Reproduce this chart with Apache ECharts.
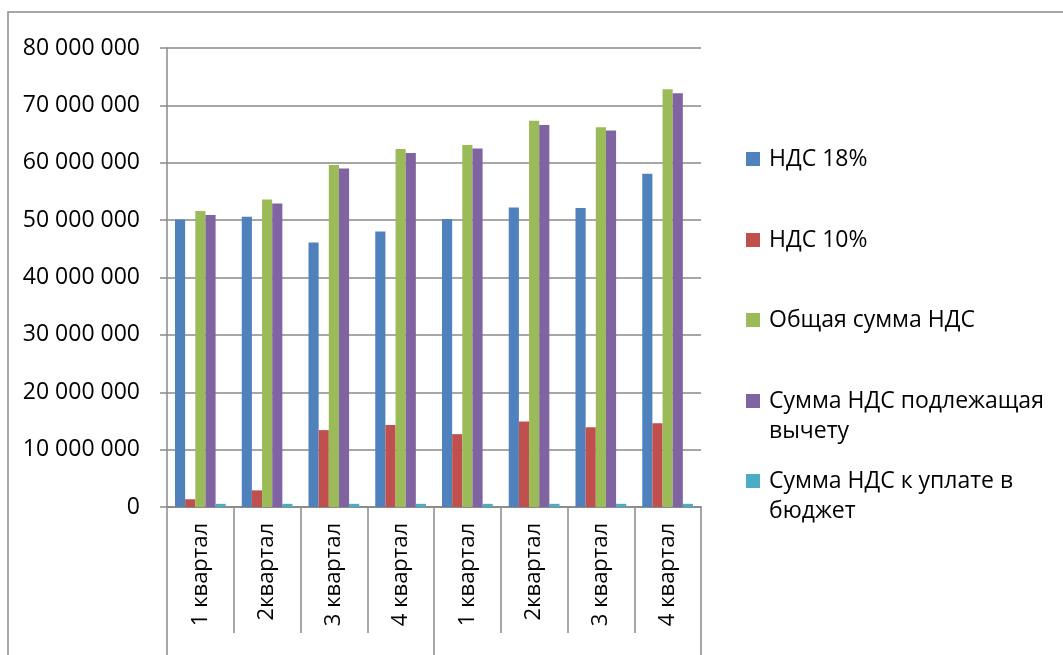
<!DOCTYPE html>
<html>
<head>
<meta charset="utf-8">
<script src="https://cdn.jsdelivr.net/npm/echarts@6/dist/echarts.min.js"></script>
<style>
html,body{margin:0;padding:0;background:#fff;}
#chart{width:1063px;height:655px;}
</style>
</head>
<body>
<div id="chart"></div>
<script>
const categories = ['1 квартал', '2квартал', '3 квартал', '4 квартал', '1 квартал', '2квартал', '3 квартал', '4 квартал'];
const groups = ['', ''];
const seriesNames = ['НДС 18%', 'НДС 10%', 'Общая сумма НДС', 'Сумма НДС подлежащая\nвычету', 'Сумма НДС к уплате в\nбюджет'];
const vat18 = [50100000, 50600000, 46100000, 48000000, 50200000, 52200000, 52100000, 58100000];
const vat10 = [1350000, 2900000, 13400000, 14300000, 12700000, 14900000, 13900000, 14600000];
const vatTotal = [51600000, 53600000, 59600000, 62400000, 63100000, 67300000, 66200000, 72800000];
const vatDeduct = [50900000, 52900000, 59000000, 61700000, 62500000, 66600000, 65600000, 72100000];
const vatPay = [550000, 550000, 550000, 550000, 550000, 550000, 550000, 550000];
const yTicks = { min: 0, max: 80000000, interval: 10000000 };

const colors = ['#4F81BD', '#C0504D', '#9BBB59', '#8064A2', '#4BACC6'];
const allData = [vat18, vat10, vatTotal, vatDeduct, vatPay];
const FONT = 'Open Sans';
const GRAY = '#8a8a8a';
const LH = 30;

const chart = echarts.init(document.getElementById('chart'), null, { renderer: 'canvas' });

// icon centres (y) of each legend entry
const legendCenters = [159, 240, 320, 401, 481];
const legends = seriesNames.map((n, i) => {
  const multi = n.indexOf('\n') >= 0;
  const h = multi ? LH + 14 : 14;
  return {
    orient: 'vertical',
    left: 746,
    top: legendCenters[i] - 7 - (LH / 2 - 7),
    padding: 0,
    itemWidth: 14,
    itemHeight: h,
    icon: multi ? 'path://M0,0L14,0L14,14L0,14Z M0,' + h + 'L0.01,' + h + 'L0,' + h + 'Z' : 'rect',
    itemStyle: { borderWidth: 0 },
    selectedMode: false,
    data: [{ name: n }],
    textStyle: { fontFamily: FONT, fontSize: 23, color: '#000', lineHeight: LH, padding: [0, 0, 0, 4] }
  };
});

const option = {
  animation: false,
  color: colors,
  graphic: [{
    type: 'rect',
    shape: { x: 8, y: 12, width: 1200, height: 800 },
    style: { fill: 'none', stroke: GRAY, lineWidth: 1.5 },
    silent: true
  }],
  legend: legends,
  grid: { left: 167, right: 362, top: 48, bottom: 148, containLabel: false },
  xAxis: [{
    type: 'category',
    data: categories,
    position: 'bottom',
    axisLine: { show: true, lineStyle: { color: GRAY, width: 1.5 } },
    axisTick: { show: true, interval: 0, length: 126, lineStyle: { color: GRAY, width: 1.5 } },
    axisLabel: { interval: 0, rotate: 90, margin: 16, fontFamily: FONT, fontSize: 22, color: '#000' },
    splitLine: { show: false }
  }, {
    type: 'category',
    data: groups,
    position: 'bottom',
    axisLine: { show: true, lineStyle: { color: GRAY, width: 1.5 } },
    axisTick: { show: true, interval: 0, length: 148, lineStyle: { color: GRAY, width: 1.5 } },
    axisLabel: { show: false },
    splitLine: { show: false }
  }],
  yAxis: {
    type: 'value',
    min: yTicks.min,
    max: yTicks.max,
    interval: yTicks.interval,
    axisLine: { show: true, lineStyle: { color: GRAY, width: 1.5 } },
    axisTick: { show: true, length: 7, lineStyle: { color: GRAY, width: 1.5 } },
    axisLabel: {
      margin: 27,
      fontFamily: FONT, fontSize: 23, color: '#000',
      formatter: v => String(v).replace(/\B(?=(\d{3})+(?!\d))/g, ' ')
    },
    splitLine: { show: true, lineStyle: { color: GRAY, width: 1.5 } }
  },
  series: seriesNames.map((n, i) => ({
    name: n,
    type: 'bar',
    xAxisIndex: 0,
    data: allData[i],
    barGap: '0%',
    barCategoryGap: '24%',
    itemStyle: { color: colors[i] }
  }))
};
chart.setOption(option);
</script>
</body>
</html>
